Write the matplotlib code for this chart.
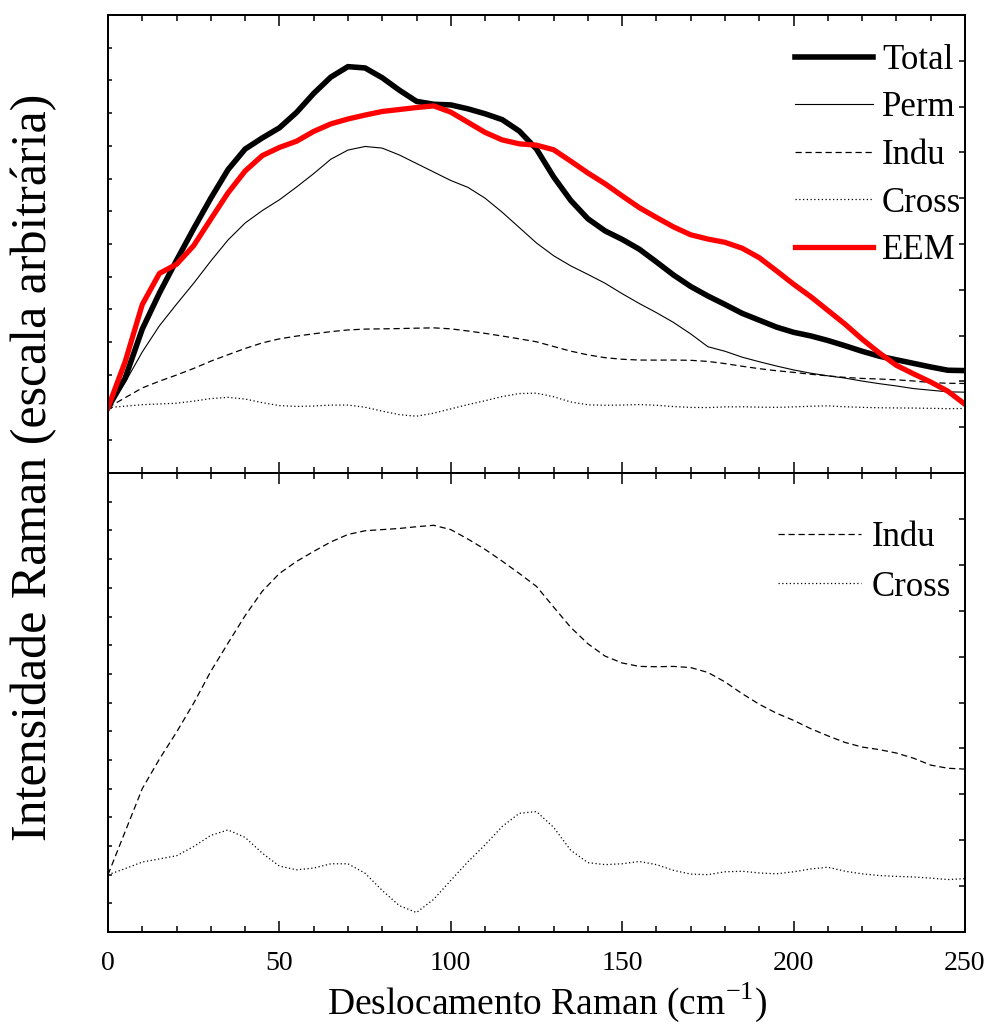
import matplotlib
matplotlib.use("Agg")
import matplotlib.pyplot as plt
from matplotlib.ticker import MultipleLocator

plt.rcParams['font.family'] = ['Liberation Serif', 'DejaVu Serif']
plt.rcParams['mathtext.fontset'] = 'custom'
plt.rcParams['mathtext.rm'] = 'Liberation Serif'

# Raman shift (cm-1), sampled every 5
shift = list(range(0, 251, 5))

# top panel curves (arbitrary units)
total = [0, 0.9, 2.4, 3.5, 4.5, 5.47, 6.4, 7.27, 7.9, 8.24, 8.55, 9.02, 9.6, 10.1, 10.42,
         10.38, 10.08, 9.7, 9.36, 9.27, 9.25, 9.13, 8.98, 8.8, 8.45, 7.9, 7.05, 6.33, 5.77,
         5.4, 5.14, 4.84, 4.45, 4.05, 3.7, 3.41, 3.15, 2.88, 2.67, 2.46, 2.3, 2.19, 2.05,
         1.89, 1.72, 1.57, 1.46, 1.35, 1.24, 1.14, 1.13]
perm = [0, 0.77, 1.7, 2.5, 3.16, 3.8, 4.48, 5.12, 5.64, 6.02, 6.35, 6.74, 7.15, 7.59, 7.87,
        7.98, 7.93, 7.72, 7.46, 7.2, 6.94, 6.73, 6.4, 5.97, 5.5, 5.03, 4.64, 4.33, 4.07,
        3.8, 3.48, 3.18, 2.9, 2.6, 2.25, 1.86, 1.72, 1.54, 1.4, 1.27, 1.15, 1.05, 0.97,
        0.9, 0.81, 0.73, 0.66, 0.58, 0.53, 0.48, 0.47]
eem = [0, 1.4, 3.15, 4.1, 4.38, 4.95, 5.76, 6.56, 7.23, 7.7, 7.95, 8.14, 8.44, 8.67, 8.82,
       8.94, 9.05, 9.11, 9.17, 9.22, 9.03, 8.72, 8.41, 8.18, 8.06, 8.02, 7.88, 7.53, 7.17,
       6.84, 6.47, 6.11, 5.81, 5.52, 5.28, 5.15, 5.05, 4.87, 4.58, 4.18, 3.77, 3.39, 2.97,
       2.55, 2.09, 1.67, 1.29, 1.03, 0.78, 0.5, 0.1]

# bottom panel curves (enlarged)
indu = [0, 1.5, 3.0, 4.03, 4.97, 5.98, 7.09, 8.07, 9.03, 9.88, 10.5, 10.92, 11.27, 11.6,
        11.86, 11.99, 12.03, 12.07, 12.13, 12.18, 12.03, 11.7, 11.34, 10.93, 10.5, 10.05,
        9.33, 8.62, 8.05, 7.62, 7.38, 7.26, 7.25, 7.26, 7.22, 7.05, 6.72, 6.31, 5.94, 5.63,
        5.38, 5.09, 4.84, 4.61, 4.45, 4.36, 4.24, 4.06, 3.82, 3.71, 3.68]
cross = [0, 0.21, 0.44, 0.55, 0.66, 0.98, 1.37, 1.56, 1.3, 0.75, 0.3, 0.17, 0.23, 0.38,
         0.38, 0.05, -0.55, -1.08, -1.32, -0.86, -0.2, 0.45, 1.04, 1.68, 2.14, 2.2, 1.65,
         0.85, 0.42, 0.35, 0.38, 0.46, 0.35, 0.15, 0.02, 0.0, 0.1, 0.12, 0.06, 0.03, 0.1,
         0.2, 0.26, 0.12, 0.03, -0.03, -0.06, -0.08, -0.12, -0.17, -0.14]

# Indu and Cross appear 5x smaller in the top panel
top_scale = 0.2

fig = plt.figure(figsize=(9.89, 10.24), dpi=100)
ax1 = fig.add_axes([0.1092, 0.5381, 0.8665, 0.4473])
ax2 = fig.add_axes([0.1092, 0.0898, 0.8665, 0.4482])


def style(ax, ylim, labels):
    tw = ax.twinx()
    tw.set_ylim(0, 10)
    tw.yaxis.set_major_locator(MultipleLocator(1))
    tw.tick_params(axis='y', direction='in', length=4, width=1.1, labelright=False)
    for s in tw.spines.values():
        s.set_linewidth(1.4)

    ax.set_xlim(0, 250)
    ax.set_ylim(*ylim)
    ax.xaxis.set_major_locator(MultipleLocator(50))
    ax.xaxis.set_minor_locator(MultipleLocator(10))
    ax.yaxis.set_major_locator(MultipleLocator(1))
    ax.tick_params(axis='x', which='major', direction='in', top=True, bottom=True,
                   length=8, width=1.1, labelsize=20, pad=14, labelbottom=labels)
    ax.tick_params(axis='x', which='minor', direction='in', top=True, bottom=True,
                   length=4.5, width=1.1)
    ax.tick_params(axis='y', which='both', direction='in', left=True, right=False,
                   length=3, width=1.1, labelleft=False)
    for s in ax.spines.values():
        s.set_linewidth(1.4)


ax1.plot(shift, total, color='black', lw=4, label='Total')
ax1.plot(shift, perm, color='black', lw=0.8, label='Perm')
ax1.plot(shift, [v * top_scale for v in indu], color='black', lw=0.9,
         dashes=(5, 3), label='Indu')
ax1.plot(shift, [v * top_scale for v in cross], color='black', lw=0.9,
         dashes=(1, 2), label='Cross')
ax1.plot(shift, eem, color='red', lw=3.8, label='EEM')
style(ax1, (-2, 12), False)
ax1.legend(loc='upper left', bbox_to_anchor=(0.8016, 0.937), frameon=False,
           fontsize=25, handlelength=2.25, handletextpad=0.26, labelspacing=0.42,
           borderpad=0, borderaxespad=0)

ax2.plot(shift, indu, color='black', lw=0.9, dashes=(5, 3), label='Indu')
ax2.plot(shift, cross, color='black', lw=0.9, dashes=(1, 2), label='Cross')
style(ax2, (-2, 14), True)
ax2.legend(loc='upper left', bbox_to_anchor=(0.782, 0.895), frameon=False,
           fontsize=25, handlelength=2.4, handletextpad=0.29, labelspacing=0.47,
           borderpad=0, borderaxespad=0)

fig.text(0.034, 0.544, 'Intensidade Raman (escala arbitrária)', rotation=90,
         fontsize=36, ha='center', va='center')
fig.text(0.553, 0.0098, 'Deslocamento Raman (cm$^{-1}$)', fontsize=27,
         ha='center', va='baseline')

fig.savefig('out.png', dpi=100)
